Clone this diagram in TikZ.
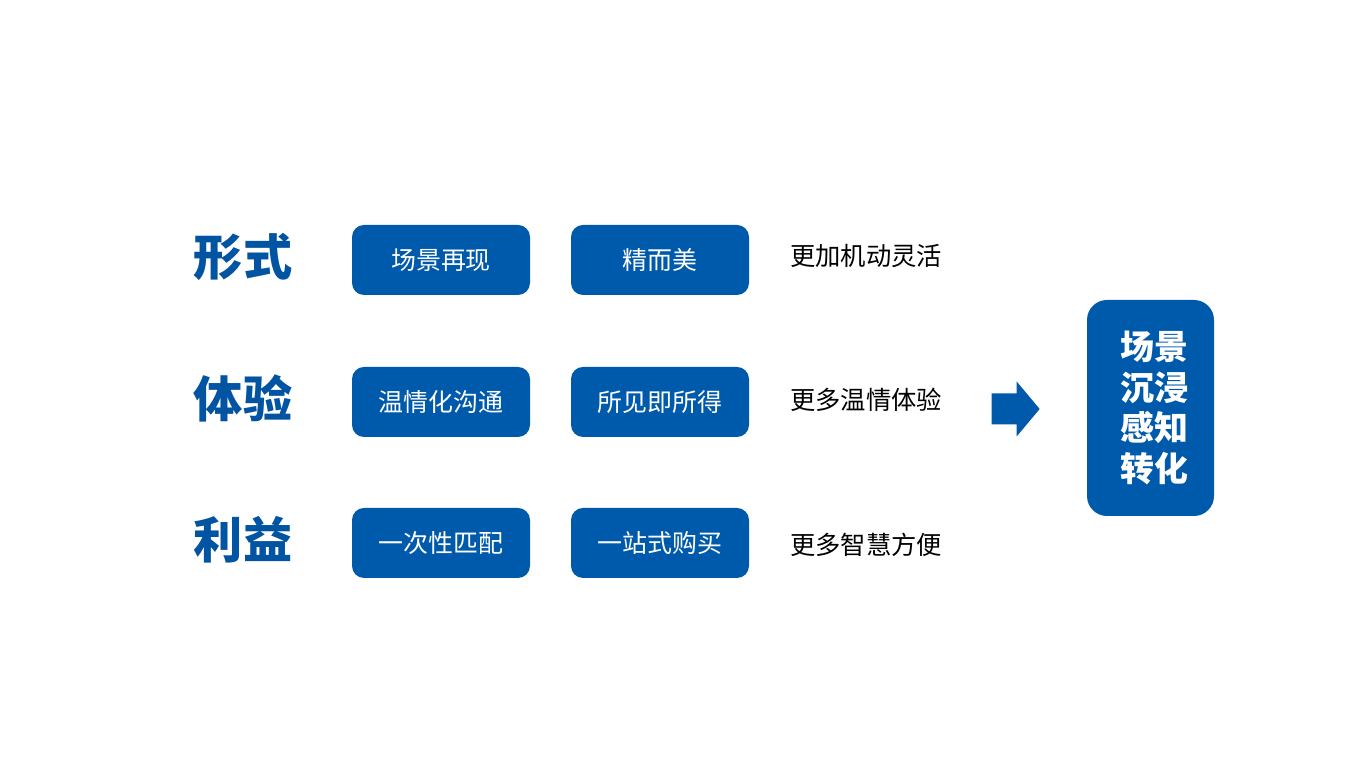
\documentclass[tikz,border=0pt]{standalone}
\usepackage{fontspec}
\usepackage{tikz}
\usetikzlibrary{positioning,calc}
\newfontfamily\cjk{Noto Sans CJK SC}
\definecolor{boxblue}{RGB}{0,90,171}
\definecolor{labelblue}{RGB}{0,84,162}

\begin{document}
\begin{tikzpicture}[every node/.style={font=\cjk}]
    \useasboundingbox[fill=white] (0,0) rectangle (27.32,15.36);

    % Row Labels
    \node[text=labelblue, font=\cjk\bfseries\fontsize{28}{30}\selectfont] (form) at (4.86, 10.22) {形式};
    \node[text=labelblue, font=\cjk\bfseries\fontsize{28}{30}\selectfont] (exp) at (4.86, 7.40) {体验};
    \node[text=labelblue, font=\cjk\bfseries\fontsize{28}{30}\selectfont] (gain) at (4.86, 4.56) {利益};

    % First Column
    \node[fill=boxblue, text=white, rounded corners=0.24cm, minimum width=3.56cm, minimum height=1.4cm, font=\cjk\fontsize{14.2}{16}\selectfont] (a1) at (8.82, 10.16) {场景再现};
    \node[fill=boxblue, text=white, rounded corners=0.24cm, minimum width=3.56cm, minimum height=1.4cm, font=\cjk\fontsize{14.2}{16}\selectfont] (a2) at (8.82, 7.32) {温情化沟通};
    \node[fill=boxblue, text=white, rounded corners=0.24cm, minimum width=3.56cm, minimum height=1.4cm, font=\cjk\fontsize{14.2}{16}\selectfont] (a3) at (8.82, 4.50) {一次性匹配};

    % Second Column
    \node[fill=boxblue, text=white, rounded corners=0.24cm, minimum width=3.56cm, minimum height=1.4cm, font=\cjk\fontsize{14.2}{16}\selectfont] (b1) at (13.20, 10.16) {精而美};
    \node[fill=boxblue, text=white, rounded corners=0.24cm, minimum width=3.56cm, minimum height=1.4cm, font=\cjk\fontsize{14.2}{16}\selectfont] (b2) at (13.20, 7.32) {所见即所得};
    \node[fill=boxblue, text=white, rounded corners=0.24cm, minimum width=3.56cm, minimum height=1.4cm, font=\cjk\fontsize{14.2}{16}\selectfont] (b3) at (13.20, 4.50) {一站式购买};

    % Outcomes
    \node[anchor=west, inner sep=0pt, font=\cjk\fontsize{14.4}{16}\selectfont] (c1) at (15.80, 10.24) {更加机动灵活};
    \node[anchor=west, inner sep=0pt, font=\cjk\fontsize{14.4}{16}\selectfont] (c2) at (15.80, 7.36) {更多温情体验};
    \node[anchor=west, inner sep=0pt, font=\cjk\fontsize{14.4}{16}\selectfont] (c3) at (15.80, 4.46) {更多智慧方便};

    % Result
    \node[fill=boxblue, text=white, rounded corners=0.4cm, minimum width=2.54cm, minimum height=4.32cm, align=center, font=\cjk\bfseries\fontsize{19.3}{23.3}\selectfont] (result) at (23.01, 7.20) {\hspace*{0.15cm}场景\\\hspace*{0.15cm}沉浸\\\hspace*{0.15cm}感知\\\hspace*{0.15cm}转化};

    % Arrow
    \coordinate (tip) at ($(result.west)+(-0.94,-0.02)$);
    \fill[boxblue] ($(tip)+(-0.96,0.31)$) -- ($(tip)+(-0.46,0.31)$) -- ($(tip)+(-0.46,0.55)$) -- (tip)
        -- ($(tip)+(-0.46,-0.55)$) -- ($(tip)+(-0.46,-0.31)$) -- ($(tip)+(-0.96,-0.31)$) -- cycle;

\end{tikzpicture}
\end{document}
